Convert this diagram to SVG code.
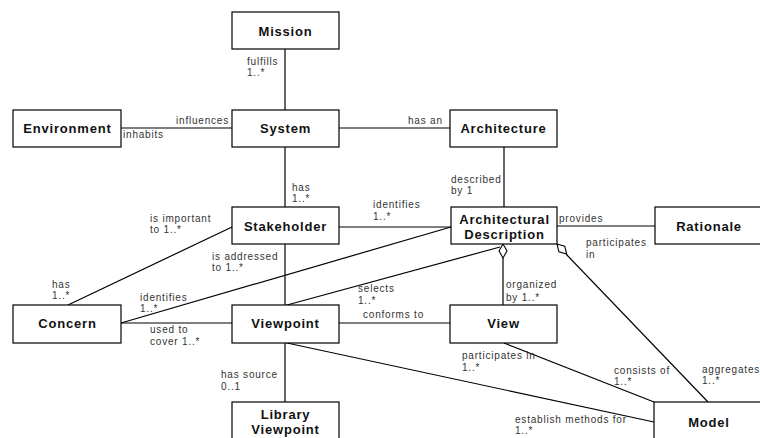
<svg xmlns="http://www.w3.org/2000/svg" width="760" height="438" viewBox="0 0 760 438">
<style>
.box{fill:#fff;stroke:#000;stroke-width:1.2}
.nl{font-family:"Liberation Sans",Arial,sans-serif;font-weight:bold;font-size:13px;letter-spacing:0.8px;fill:#111;text-anchor:middle}
.el{font-family:"Liberation Sans",Arial,sans-serif;font-size:10px;letter-spacing:0.8px;fill:#333}
.c line{stroke:#000;stroke-width:1.2}
.dia{fill:#fff;stroke:#000;stroke-width:1.1}
</style>
<rect width="760" height="438" fill="#fff"/>
<g id="connectors" class="c">
<line x1="285" y1="49" x2="285" y2="110"/>
<line x1="121" y1="128" x2="232" y2="128"/>
<line x1="339" y1="128" x2="450" y2="128"/>
<line x1="285" y1="147" x2="285" y2="207"/>
<line x1="504" y1="147" x2="504" y2="207"/>
<line x1="339" y1="227" x2="451" y2="227"/>
<line x1="557" y1="226" x2="655" y2="226"/>
<line x1="285" y1="244" x2="285" y2="305"/>
<line x1="232" y1="227" x2="68" y2="305"/>
<line x1="121" y1="323" x2="451" y2="227"/>
<line x1="121" y1="323" x2="232" y2="323"/>
<line x1="287" y1="305" x2="500" y2="247"/>
<line x1="503" y1="258" x2="503" y2="305"/>
<line x1="339" y1="323" x2="450" y2="323"/>
<line x1="285" y1="343" x2="285" y2="402"/>
<line x1="287" y1="343" x2="654" y2="422"/>
<line x1="504" y1="343" x2="654" y2="402"/>
<line x1="566" y1="254" x2="708" y2="402"/>
<polygon class="dia" points="503,244 507,251 503,258 499,251"/>
<polygon class="dia" points="557,244 564.7,246.2 566.7,254 558.9,251.8"/>
</g>
<g id="mission"><rect class="box" x="232" y="12" width="107" height="37"/><text class="nl" x="285.5" y="36">Mission</text></g>
<g id="environment"><rect class="box" x="13" y="110" width="108" height="37"/><text class="nl" x="67.5" y="133">Environment</text></g>
<g id="system"><rect class="box" x="232" y="110" width="107" height="37"/><text class="nl" x="285.5" y="133">System</text></g>
<g id="architecture"><rect class="box" x="450" y="110" width="107" height="37"/><text class="nl" x="503.5" y="133">Architecture</text></g>
<g id="stakeholder"><rect class="box" x="232" y="207" width="107" height="37"/><text class="nl" x="285.5" y="231">Stakeholder</text></g>
<g id="archdesc"><rect class="box" x="451" y="207" width="106" height="37"/><text class="nl" x="504.5" y="224">Architectural</text><text class="nl" x="504.5" y="239">Description</text></g>
<g id="rationale"><rect class="box" x="655" y="207" width="108" height="37"/><text class="nl" x="709" y="231">Rationale</text></g>
<g id="concern"><rect class="box" x="13" y="305" width="108" height="38"/><text class="nl" x="67.5" y="328">Concern</text></g>
<g id="viewpoint"><rect class="box" x="232" y="305" width="107" height="38"/><text class="nl" x="285.5" y="328">Viewpoint</text></g>
<g id="view"><rect class="box" x="450" y="305" width="107" height="38"/><text class="nl" x="503.5" y="328">View</text></g>
<g id="libraryviewpoint"><rect class="box" x="232" y="402" width="107" height="50"/><text class="nl" x="285.5" y="419">Library</text><text class="nl" x="285.5" y="434">Viewpoint</text></g>
<g id="model"><rect class="box" x="654" y="402" width="109" height="50"/><text class="nl" x="709" y="427">Model</text></g>
<g id="labels" class="el">
<text x="247" y="65">fulfills</text><text x="247" y="76">1..*</text>
<text x="176" y="124">influences</text>
<text x="123" y="138">inhabits</text>
<text x="408" y="124">has an</text>
<text x="292" y="191">has</text><text x="292" y="202">1..*</text>
<text x="451" y="183">described</text><text x="451" y="194">by 1</text>
<text x="373" y="208">identifies</text><text x="373" y="220">1..*</text>
<text x="150" y="222">is important</text><text x="150" y="233">to 1..*</text>
<text x="559" y="222">provides</text>
<text x="586" y="246">participates</text><text x="586" y="258">in</text>
<text x="212" y="260">is addressed</text><text x="212" y="271">to 1..*</text>
<text x="52" y="288">has</text><text x="52" y="299">1..*</text>
<text x="140" y="301">identifies</text><text x="140" y="312">1..*</text>
<text x="358" y="292">selects</text><text x="358" y="304">1..*</text>
<text x="506" y="288">organized</text><text x="506" y="301">by 1..*</text>
<text x="363" y="318">conforms to</text>
<text x="150" y="333">used to</text><text x="150" y="345">cover 1..*</text>
<text x="221" y="378">has source</text><text x="221" y="390">0..1</text>
<text x="462" y="359">participates in</text><text x="462" y="371">1..*</text>
<text x="614" y="374">consists of</text><text x="614" y="385">1..*</text>
<text x="702" y="373">aggregates</text><text x="702" y="384">1..*</text>
<text x="515" y="423">establish methods for</text><text x="515" y="434">1..*</text>
</g>
</svg>
